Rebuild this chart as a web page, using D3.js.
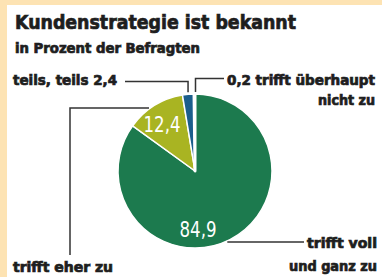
<!DOCTYPE html>
<html>
<head>
<meta charset="utf-8">
<script src="https://cdn.jsdelivr.net/npm/d3@7"></script>
<style>
  html, body { margin: 0; padding: 0; background: #fff; }
  svg { display: block; }
  .lbl { font-family: "DejaVu Sans Condensed", "DejaVu Sans", sans-serif; font-weight: bold; fill: #1e1e1e; stroke: #1e1e1e; stroke-width: 0.7; }
  .val { font-family: "Liberation Sans Narrow", "DejaVu Sans Condensed", sans-serif; fill: #fff; }
</style>
</head>
<body>
<div id="chart"></div>
<script>
// Werte aus der Grafik
const categories = ['trifft voll und ganz zu', 'trifft eher zu', 'teils, teils', 'trifft überhaupt nicht zu'];
const values = [84.9, 12.4, 2.4, 0.2];
const valueLabels = ['84,9', '12,4', '2,4', '0,2'];
const colors = ['#1c7a4e', '#a9b422', '#1c5e8c', '#ffffff'];

const title = 'Kundenstrategie ist bekannt';
const subtitle = 'in Prozent der Befragten';

const width = 382, height = 277;
const cx = 195, cy = 171, r = 77;

const svg = d3.select('#chart').append('svg')
  .attr('width', width)
  .attr('height', height);

// Rahmen (oben/links)
svg.append('rect').attr('x', 0).attr('y', 0).attr('width', width).attr('height', 5).attr('fill', '#fde3b3');
svg.append('rect').attr('x', 0).attr('y', 0).attr('width', 7).attr('height', height).attr('fill', '#fde3b3');

svg.append('text').attr('class', 'lbl')
  .attr('x', 15).attr('y', 29)
  .attr('font-size', 20)
  .attr('stroke-width', 1)
  .attr('textLength', 281).attr('lengthAdjust', 'spacingAndGlyphs')
  .text(title);

svg.append('text').attr('class', 'lbl')
  .attr('x', 15).attr('y', 53)
  .attr('font-size', 14)
  .attr('textLength', 185).attr('lengthAdjust', 'spacingAndGlyphs')
  .text(subtitle);

const pie = d3.pie().sort(null).value(d => d)(values);
const arc = d3.arc().innerRadius(0).outerRadius(r);

const g = svg.append('g').attr('transform', `translate(${cx},${cy})`);

g.selectAll('path')
  .data(pie)
  .enter()
    .append('path')
      .attr('d', arc)
      .attr('fill', (d, i) => colors[i])
      .attr('stroke', '#fff')
      .attr('stroke-width', (d, i) => i === 3 ? 3 : 1.5)
      .attr('stroke-linejoin', 'round');

// Werte in den Segmenten
const valPos = [[3, 66], [-33, -39]];
valPos.forEach((p, i) => {
  g.append('text').attr('class', 'val')
    .attr('x', p[0]).attr('y', p[1])
    .attr('text-anchor', 'middle')
    .attr('font-size', 21)
    .attr('textLength', 37).attr('lengthAdjust', 'spacingAndGlyphs')
    .text(valueLabels[i]);
});

// Führungslinien
const line = svg.append('g')
  .attr('fill', 'none')
  .attr('stroke', '#333')
  .attr('stroke-width', 1.5);

const onRim = (a, rr) => [cx + rr * Math.sin(a), cy - rr * Math.cos(a)];
const rimAtY = (y, side) => cx + side * Math.sqrt((r + 1) * (r + 1) - (cy - y) * (cy - y));
const mid = d => (d.startAngle + d.endAngle) / 2;

// teils, teils
const pTeils = onRim(mid(pie[2]), r + 2);
line.append('path').attr('d', `M125,81.5H${pTeils[0]}V${pTeils[1]}`);
// überhaupt nicht
const pNicht = onRim(mid(pie[3]), r + 2);
line.append('path').attr('d', `M224,78.5H${pNicht[0] + 1}V${pNicht[1]}`);
// eher
line.append('path').attr('d', `M70,255V108H${rimAtY(108, -1)}`);
// voll und ganz
line.append('path').attr('d', `M${rimAtY(242, 1)},242H304`);

// Beschriftungen
const labels = [
  { t: `teils, teils ${valueLabels[2]}`, x: 13, y: 85, w: 104 },
  { t: `${valueLabels[3]} trifft überhaupt`, x: 227, y: 85, w: 148 },
  { t: 'nicht zu', x: 318, y: 105, w: 57 },
  { t: 'trifft eher zu', x: 13, y: 272, w: 100 },
  { t: 'trifft voll', x: 307, y: 248, w: 70 },
  { t: 'und ganz zu', x: 289, y: 271, w: 88 }
];

svg.selectAll('.item')
  .data(labels)
  .enter()
    .append('text')
      .attr('class', 'lbl')
      .attr('x', d => d.x)
      .attr('y', d => d.y)
      .attr('font-size', 14)
      .attr('textLength', d => d.w)
      .attr('lengthAdjust', 'spacingAndGlyphs')
      .text(d => d.t);
</script>
</body>
</html>
